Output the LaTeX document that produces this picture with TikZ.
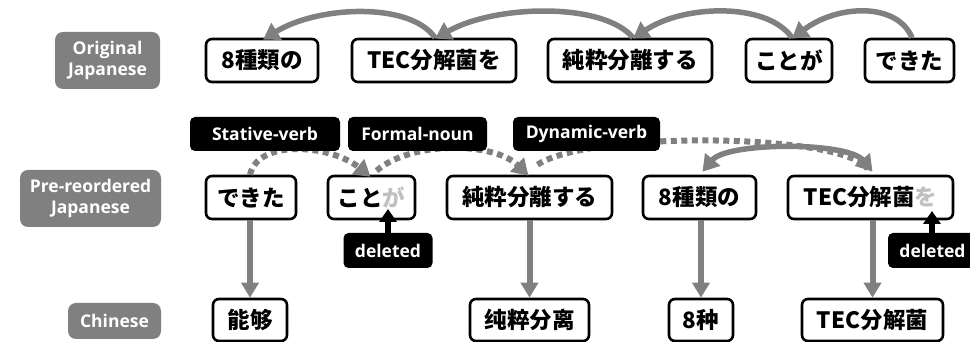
\documentclass[tikz,border=0pt]{standalone}
\usepackage{fontspec}
\setmainfont{Open Sans}
\newfontfamily\jpf{Noto Sans CJK JP}
\newfontfamily\scf{Noto Sans CJK SC}
\usetikzlibrary{arrows.meta,calc}
\definecolor{gmid}{HTML}{808080}
\definecolor{glight}{HTML}{C0C0C0}
\begin{document}
\begin{tikzpicture}[x=1pt,y=1pt,
  wbox/.style={draw=black, line width=2.6pt, rounded corners=6pt, fill=white,
    minimum height=43pt, inner sep=0pt, font=\jpf\bfseries\fontsize{22.5}{22}\selectfont},
  cbox/.style={wbox, minimum height=42pt, font=\scf\bfseries\fontsize{22.5}{22}\selectfont},
  glabel/.style={fill=gmid, rounded corners=8pt, text=white, align=center, inner sep=0pt,
    font=\bfseries\fontsize{17.5}{21}\selectfont},
  tagbox/.style={fill=black, rounded corners=5pt, text=white, inner sep=0pt,
    minimum height=34pt, font=\bfseries\fontsize{17.5}{21}\selectfont},
  garc/.style={draw=gmid, line width=5.5pt, -{Triangle[length=16pt,width=19pt]}},
  garcb/.style={draw=gmid, line width=5.5pt, {Triangle[length=16pt,width=19pt]}-{Triangle[length=16pt,width=19pt]}},
  dotarc/.style={draw=gmid, line width=6pt, dash pattern=on 6pt off 4.5pt},
  dotarr/.style={dotarc, -{Triangle[length=16pt,width=19pt]}},
  down/.style={draw=gmid, line width=6pt, -{Triangle[length=15pt,width=17pt]}},
  uparr/.style={draw=black, line width=5.5pt, -{Triangle[length=13pt,width=17pt]}}
]
\useasboundingbox (0,0) rectangle (970,342);

% row labels
\node[glabel, minimum width=105pt, minimum height=57pt] (lab1) at (107.5,281.5) {Original\\Japanese};
\node[glabel, minimum width=141pt, minimum height=57pt] (lab2) at (90.5,143.5) {Pre-reordered\\Japanese};
\node[glabel, minimum width=93pt, minimum height=36pt] (lab3) at (114.5,21) {Chinese};

% original Japanese
\node[wbox, minimum width=112pt] (o1) at (262,281.5) {8種類の};
\node[wbox, minimum width=164pt] (o2) at (434,281.5) {TEC分解菌を};
\node[wbox, minimum width=164pt] (o3) at (630,281.5) {純粋分離する};
\node[wbox, minimum width=86pt] (o4) at (789,281.5) {ことが};
\node[wbox, minimum width=89pt] (o5) at (909.5,281.5) {できた};

\draw[garc] ($(o5.north)+(2.5,0)$) .. controls +(-15,36) and +(45,34) .. ($(o4.north)+(3,-1)$);
\draw[garc] ($(o4.north)+(3,0)$) .. controls +(-25,36) and +(50,34) .. ($(o3.north)+(3,-1)$);
\draw[garc] ($(o3.north)+(3,0)$) .. controls +(-30,36) and +(60,34) .. ($(o2.north)+(1,-1)$);
\draw[garc] ($(o2.north)+(1,0)$) .. controls +(-25,36) and +(55,34) .. ($(o1.north)+(1,-2)$);

% pre-reordered Japanese
\node[wbox, minimum width=90pt] (m1) at (251,144.5) {できた};
\node[wbox, minimum width=87pt] (m2) at (371.5,144.5) {こと\textcolor{glight}{が}};
\node[wbox, minimum width=165pt] (m3) at (529.5,144.5) {純粋分離する};
\node[wbox, minimum width=113pt] (m4) at (699.5,144.5) {8種類の};
\node[wbox, minimum width=165pt] (m5) at (870.5,144.5) {TEC分解菌\textcolor{glight}{を}};

% chinese
\node[cbox, minimum width=74pt] (c1) at (250,22) {能够};
\node[cbox, minimum width=119pt] (c2) at (529.5,22) {纯粹分离};
\node[cbox, minimum width=64pt] (c3) at (701,22) {8种};
\node[cbox, minimum width=141pt] (c4) at (872.5,22) {TEC分解菌};

% dotted arcs
\draw[dotarr] ($(m1.north)+(-1,0)$) .. controls +(8,36) and +(-40,32) .. ($(m2.north)+(-1,-2)$);
\draw[dotarr] ($(m2.north)+(5,4)$) .. controls +(35,30) and +(-35,34) .. ($(m3.north)+(-1,-1)$);
\draw[dotarc] ($(m3.north)+(8,10)$) .. controls +(50,34) and +(-25,36) .. ($(m5.north)+(-3,6)$);

% solid double arc
\draw[garcb] ($(m4.north)+(3,3)$) .. controls +(25,30) and +(-25,30) .. ($(m5.north)+(2,3)$);

% tags
\node[tagbox, minimum width=150pt] (t1) at (265,208) {Stative-verb};
\node[tagbox, minimum width=139pt] (t2) at (417.5,208) {Formal-noun};
\node[tagbox, minimum width=147pt] (t3) at (586.5,208) {Dynamic-verb};
\node[tagbox, minimum width=89pt, minimum height=35pt] (d1) at (388,91.5) {deleted};
\node[tagbox, minimum width=89pt, minimum height=35pt] (d2) at (932.5,91.5) {deleted};

% downward arrows
\draw[down] (c1.north |- m1.south) -- (c1.north);
\draw[down] (c2.north |- m3.south) -- (c2.north);
\draw[down] (c3.north |- m4.south) -- (c3.north);
\draw[down] (c4.north |- m5.south) -- (c4.north);

% deleted arrows
\coordinate (ga) at (388,133);
\coordinate (wo) at (932,131);
\draw[uparr] (d1.north) -- (ga);
\draw[uparr] (d2.north -| wo) -- (wo);
\end{tikzpicture}
\end{document}
